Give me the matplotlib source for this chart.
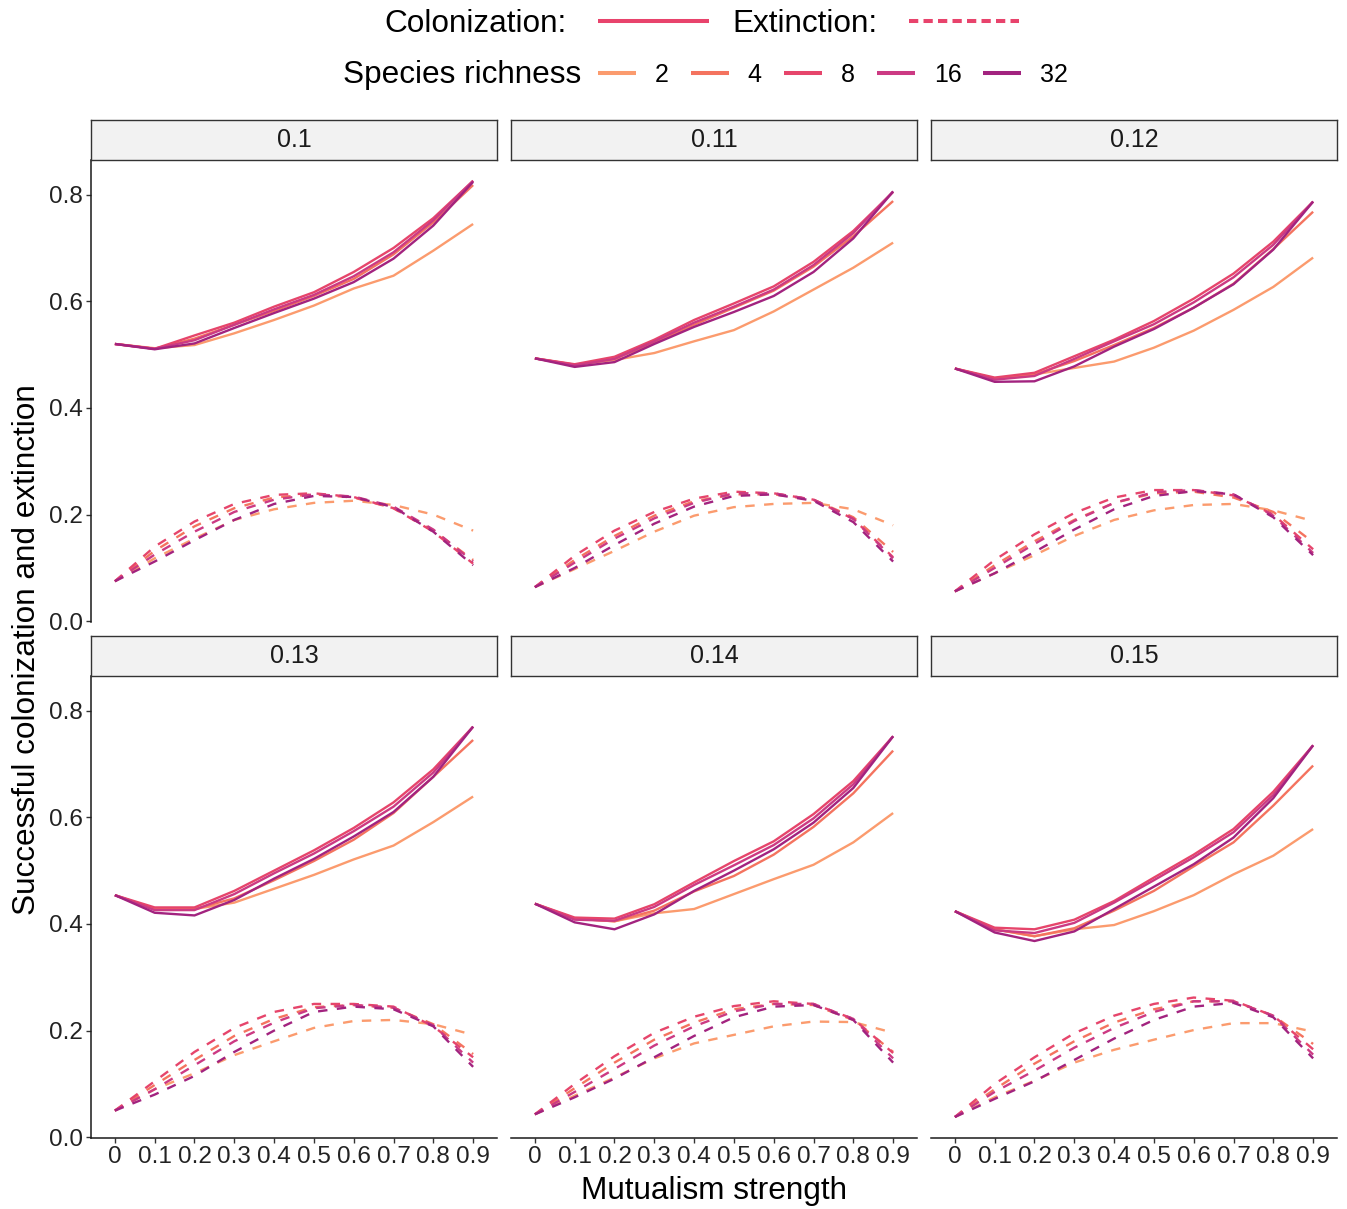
import matplotlib
matplotlib.use('Agg')
import matplotlib.pyplot as plt
from matplotlib.lines import Line2D
import numpy as np

plt.rcParams['font.family'] = ['Liberation Sans', 'DejaVu Sans']

# ---------------- data ----------------
mutualism = ['0', '0.1', '0.2', '0.3', '0.4', '0.5', '0.6', '0.7', '0.8', '0.9']
richness = [2, 4, 8, 16, 32]
facets = ['0.1', '0.11', '0.12', '0.13', '0.14', '0.15']
colors = ['#FB9B6E', '#F4735F', '#E6456B', '#CC3A83', '#A2237F']
key_color = '#E8436C'

# rows: richness 2, 4, 8, 16, 32 ; columns: mutualism strength 0 .. 0.9
col_010 = [
    [0.520, 0.512, 0.518, 0.540, 0.565, 0.592, 0.624, 0.648, 0.695, 0.745],
    [0.520, 0.511, 0.530, 0.556, 0.582, 0.610, 0.642, 0.688, 0.748, 0.818],
    [0.520, 0.511, 0.536, 0.560, 0.590, 0.617, 0.655, 0.700, 0.756, 0.826],
    [0.520, 0.511, 0.527, 0.556, 0.585, 0.612, 0.647, 0.692, 0.752, 0.826],
    [0.520, 0.510, 0.521, 0.550, 0.578, 0.605, 0.636, 0.680, 0.742, 0.824],
]
ext_010 = [
    [0.075, 0.118, 0.155, 0.190, 0.210, 0.222, 0.226, 0.218, 0.200, 0.170],
    [0.075, 0.132, 0.178, 0.212, 0.232, 0.238, 0.232, 0.212, 0.170, 0.115],
    [0.075, 0.140, 0.187, 0.220, 0.237, 0.240, 0.233, 0.212, 0.168, 0.108],
    [0.075, 0.125, 0.168, 0.205, 0.228, 0.238, 0.234, 0.215, 0.172, 0.112],
    [0.075, 0.112, 0.152, 0.190, 0.220, 0.235, 0.233, 0.214, 0.168, 0.105],
]
col_011 = [
    [0.493, 0.481, 0.490, 0.503, 0.525, 0.546, 0.581, 0.622, 0.663, 0.710],
    [0.493, 0.481, 0.492, 0.522, 0.556, 0.588, 0.620, 0.665, 0.722, 0.788],
    [0.493, 0.482, 0.496, 0.528, 0.565, 0.596, 0.628, 0.674, 0.732, 0.805],
    [0.493, 0.480, 0.492, 0.525, 0.560, 0.590, 0.622, 0.668, 0.728, 0.806],
    [0.493, 0.477, 0.486, 0.520, 0.552, 0.580, 0.610, 0.655, 0.718, 0.806],
]
ext_011 = [
    [0.064, 0.098, 0.132, 0.168, 0.198, 0.214, 0.220, 0.222, 0.210, 0.180],
    [0.064, 0.115, 0.160, 0.198, 0.225, 0.238, 0.238, 0.228, 0.195, 0.130],
    [0.064, 0.123, 0.170, 0.205, 0.230, 0.243, 0.240, 0.228, 0.192, 0.120],
    [0.064, 0.110, 0.155, 0.193, 0.222, 0.240, 0.240, 0.228, 0.192, 0.118],
    [0.064, 0.100, 0.143, 0.183, 0.215, 0.235, 0.238, 0.226, 0.186, 0.112],
]
col_012 = [
    [0.474, 0.455, 0.463, 0.475, 0.487, 0.513, 0.545, 0.584, 0.627, 0.682],
    [0.474, 0.455, 0.463, 0.488, 0.518, 0.550, 0.588, 0.633, 0.698, 0.768],
    [0.474, 0.457, 0.466, 0.497, 0.528, 0.563, 0.605, 0.652, 0.712, 0.787],
    [0.474, 0.453, 0.460, 0.492, 0.525, 0.557, 0.598, 0.645, 0.706, 0.787],
    [0.474, 0.449, 0.450, 0.478, 0.515, 0.548, 0.588, 0.632, 0.697, 0.787],
]
ext_012 = [
    [0.056, 0.090, 0.124, 0.160, 0.190, 0.208, 0.218, 0.220, 0.208, 0.188],
    [0.056, 0.105, 0.150, 0.190, 0.222, 0.240, 0.243, 0.232, 0.205, 0.148],
    [0.056, 0.115, 0.163, 0.203, 0.232, 0.246, 0.246, 0.236, 0.200, 0.135],
    [0.056, 0.100, 0.145, 0.188, 0.222, 0.242, 0.246, 0.238, 0.198, 0.128],
    [0.056, 0.090, 0.130, 0.172, 0.210, 0.235, 0.244, 0.238, 0.195, 0.124],
]
col_013 = [
    [0.454, 0.428, 0.428, 0.440, 0.466, 0.492, 0.521, 0.547, 0.591, 0.639],
    [0.454, 0.428, 0.428, 0.448, 0.482, 0.518, 0.558, 0.608, 0.676, 0.745],
    [0.454, 0.431, 0.431, 0.462, 0.500, 0.538, 0.580, 0.628, 0.690, 0.770],
    [0.454, 0.426, 0.426, 0.456, 0.495, 0.532, 0.574, 0.620, 0.684, 0.770],
    [0.454, 0.421, 0.416, 0.445, 0.485, 0.522, 0.564, 0.610, 0.676, 0.770],
]
ext_013 = [
    [0.050, 0.090, 0.120, 0.154, 0.180, 0.205, 0.218, 0.220, 0.212, 0.192],
    [0.050, 0.098, 0.145, 0.190, 0.222, 0.244, 0.248, 0.243, 0.212, 0.156],
    [0.050, 0.105, 0.160, 0.205, 0.235, 0.250, 0.250, 0.245, 0.208, 0.150],
    [0.050, 0.090, 0.135, 0.180, 0.215, 0.242, 0.248, 0.243, 0.210, 0.140],
    [0.050, 0.080, 0.115, 0.160, 0.200, 0.235, 0.245, 0.240, 0.208, 0.132],
]
col_014 = [
    [0.438, 0.410, 0.405, 0.420, 0.428, 0.456, 0.484, 0.511, 0.553, 0.608],
    [0.438, 0.410, 0.405, 0.425, 0.461, 0.490, 0.530, 0.582, 0.645, 0.725],
    [0.438, 0.412, 0.410, 0.437, 0.478, 0.518, 0.555, 0.606, 0.668, 0.752],
    [0.438, 0.408, 0.406, 0.432, 0.473, 0.510, 0.548, 0.598, 0.662, 0.752],
    [0.438, 0.403, 0.390, 0.418, 0.462, 0.500, 0.540, 0.590, 0.655, 0.752],
]
ext_014 = [
    [0.043, 0.078, 0.112, 0.148, 0.176, 0.192, 0.208, 0.217, 0.216, 0.196],
    [0.043, 0.092, 0.140, 0.183, 0.215, 0.240, 0.250, 0.248, 0.220, 0.160],
    [0.043, 0.100, 0.152, 0.196, 0.226, 0.246, 0.255, 0.250, 0.222, 0.158],
    [0.043, 0.085, 0.128, 0.172, 0.208, 0.236, 0.250, 0.250, 0.222, 0.148],
    [0.043, 0.075, 0.110, 0.150, 0.190, 0.225, 0.245, 0.248, 0.220, 0.140],
]
col_015 = [
    [0.424, 0.390, 0.377, 0.390, 0.398, 0.424, 0.454, 0.493, 0.528, 0.578],
    [0.424, 0.390, 0.377, 0.392, 0.425, 0.462, 0.508, 0.553, 0.622, 0.697],
    [0.424, 0.393, 0.390, 0.408, 0.443, 0.487, 0.530, 0.578, 0.648, 0.735],
    [0.424, 0.388, 0.383, 0.402, 0.440, 0.482, 0.525, 0.572, 0.642, 0.735],
    [0.424, 0.384, 0.368, 0.386, 0.428, 0.470, 0.512, 0.562, 0.636, 0.735],
]
ext_015 = [
    [0.038, 0.075, 0.106, 0.140, 0.164, 0.183, 0.201, 0.214, 0.214, 0.198],
    [0.038, 0.090, 0.138, 0.180, 0.215, 0.240, 0.255, 0.255, 0.228, 0.175],
    [0.038, 0.100, 0.150, 0.195, 0.228, 0.250, 0.262, 0.256, 0.228, 0.165],
    [0.038, 0.085, 0.125, 0.168, 0.205, 0.235, 0.255, 0.255, 0.228, 0.155],
    [0.038, 0.072, 0.105, 0.145, 0.185, 0.220, 0.245, 0.252, 0.225, 0.148],
]

colonization = [col_010, col_011, col_012, col_013, col_014, col_015]
extinction = [ext_010, ext_011, ext_012, ext_013, ext_014, ext_015]
yticks = [0.0, 0.2, 0.4, 0.6, 0.8]

# ---------------- figure ----------------
W, H = 1347, 1209
fig = plt.figure(figsize=(W / 100, H / 100), dpi=100)
fig.patch.set_facecolor('white')

col_x = [91, 511, 931]
pw = 406
row_y = [(160, 622), (676, 1138)]
strip_h = 40
x = np.arange(len(mutualism))
lw = 1.7
axis_col = '#1a1a1a'

for i, facet in enumerate(facets):
    r, c = divmod(i, 3)
    x0 = col_x[c]
    y0, y1 = row_y[r]
    ax = fig.add_axes([x0 / W, 1 - y1 / H, pw / W, (y1 - y0) / H])
    for k, rich in enumerate(richness):
        ax.plot(x, colonization[i][k], color=colors[k], lw=lw,
                solid_capstyle='butt', solid_joinstyle='round', zorder=2 + k)
    for k, rich in enumerate(richness):
        ax.plot(x, extinction[i][k], color=colors[k], lw=lw,
                ls=(0, (4, 4)), dash_capstyle='butt', zorder=2 + k)
    ax.set_xlim(-0.6, 9.6)
    ax.set_ylim(-0.0014, 0.865)
    for s in ['top', 'right']:
        ax.spines[s].set_visible(False)
    ax.spines['left'].set_visible(c == 0)
    ax.spines['bottom'].set_visible(r == 1)
    for s in ['left', 'bottom']:
        ax.spines[s].set_linewidth(1.1)
        ax.spines[s].set_color(axis_col)
    ax.set_yticks(yticks)
    ax.set_yticklabels([f'{v:.1f}' for v in yticks])
    ax.set_xticks(x)
    ax.set_xticklabels(mutualism)
    ax.tick_params(axis='both', length=3.6, width=1.0, color='#333333',
                   labelsize=17.5, labelcolor='#222222', pad=2.5)
    if c != 0:
        ax.tick_params(axis='y', left=False, labelleft=False)
    if r != 1:
        ax.tick_params(axis='x', bottom=False, labelbottom=False)
    ax.set_facecolor('white')

    sax = fig.add_axes([x0 / W, 1 - y0 / H, pw / W, strip_h / H])
    sax.set_facecolor('#F2F2F2')
    sax.set_xticks([])
    sax.set_yticks([])
    for s in sax.spines.values():
        s.set_linewidth(1.0)
        s.set_color('#333333')
    sax.text(0.5, 0.5, facet, transform=sax.transAxes, ha='center', va='center',
             fontsize=18, color='#1a1a1a')

# ---------------- legends ----------------
h1 = [Line2D([], [], color=key_color, lw=2.9, solid_capstyle='butt'),
      Line2D([], [], color=key_color, lw=2.9, ls=(0, (2.3, 1.3)), dash_capstyle='butt')]
fig.legend(h1, ['Colonization:', 'Extinction:'], loc='center',
           bbox_to_anchor=(702 / W, 1 - 24 / H), ncol=2, frameon=False,
           markerfirst=False, fontsize=22.7, handlelength=3.5,
           handletextpad=1.0, columnspacing=0.75, borderpad=0.1)

h2 = [Line2D([], [], color=cc, lw=2.9, solid_capstyle='butt') for cc in colors]
fig.legend(h2, [str(rr) for rr in richness], loc='center',
           bbox_to_anchor=(833 / W, 1 - 75 / H), ncol=5, frameon=False,
           fontsize=18, handlelength=1.52, handletextpad=0.76,
           columnspacing=0.88, borderpad=0.1)
fig.text(581 / W, 1 - 75 / H, 'Species richness', ha='right', va='center',
         fontsize=22.7)

# ---------------- axis titles ----------------
fig.text(27 / W, 1 - 650 / H, 'Successful colonization and extinction',
         rotation=90, ha='center', va='center', fontsize=22.7)
fig.text(714 / W, 1 - 1191 / H, 'Mutualism strength', ha='center', va='center',
         fontsize=22.7)

fig.savefig('out.png', dpi=100, facecolor='white')
